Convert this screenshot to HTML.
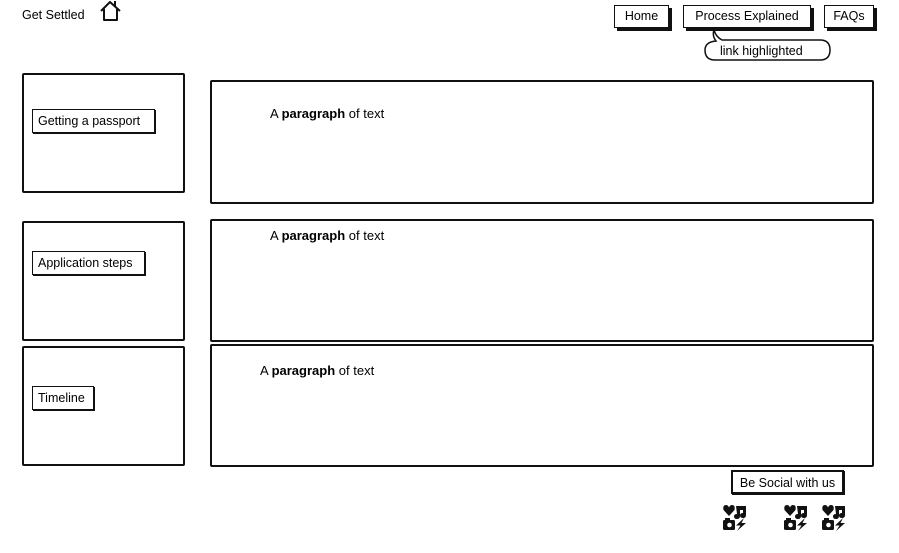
<!DOCTYPE html>
<html><head><style>
body{margin:0;width:899px;height:553px;background:#fff;position:relative;font-family:"Liberation Sans",sans-serif;font-size:13px;color:#000;overflow:hidden}
.a{position:absolute;box-sizing:border-box}
.box{border:2px solid #111;border-radius:2px}
.btn{border:1.5px solid #111;background:#fff;box-shadow:3px 3px 0 #111;text-align:center;font-size:12.5px}
.lbl{border:1.5px solid #111;background:#fff;box-shadow:1px 1px 0 #111;font-size:12.5px;padding-left:5px}
</style></head><body>
<div class="a" style="left:22px;top:8px;font-size:12.5px">Get Settled</div>
<svg class="a" style="left:98px;top:0" width="26" height="24"><path d="M3 11 L12 2 L22 11 M6 9 V20 H19 V9 M17 6 V1" fill="none" stroke="#111" stroke-width="2" stroke-linejoin="round"/></svg>

<div class="a btn" style="left:614px;top:5px;width:55px;height:23px;line-height:20px">Home</div>
<div class="a btn" style="left:683px;top:5px;width:128px;height:23px;line-height:20px">Process Explained</div>
<div class="a btn" style="left:824px;top:5px;width:50px;height:23px;line-height:20px">FAQs</div>
<svg class="a" style="left:700px;top:28px" width="135" height="36"><path d="M14 2 Q16 9 22 12 H120 Q130 12 130 22 Q130 32 120 32 H15 Q5 32 5 22 Q5 14 16 13 Q12 8 14 2 Z" fill="#fff" stroke="#111" stroke-width="1.5"/></svg>
<div class="a" style="left:720px;top:44px;font-size:12.5px">link highlighted</div>

<div class="a box" style="left:22px;top:73px;width:163px;height:120px"></div>
<div class="a lbl" style="left:32px;top:109px;width:123px;height:24px;line-height:22px">Getting a passport</div>
<div class="a box" style="left:22px;top:221px;width:163px;height:120px"></div>
<div class="a lbl" style="left:32px;top:251px;width:113px;height:24px;line-height:22px">Application steps</div>
<div class="a box" style="left:22px;top:346px;width:163px;height:120px"></div>
<div class="a lbl" style="left:32px;top:386px;width:62px;height:24px;line-height:22px">Timeline</div>

<div class="a box" style="left:210px;top:80px;width:664px;height:124px"></div>
<div class="a" style="left:270px;top:106px">A <b>paragraph</b> of text</div>
<div class="a box" style="left:210px;top:219px;width:664px;height:123px"></div>
<div class="a" style="left:270px;top:228px">A <b>paragraph</b> of text</div>
<div class="a box" style="left:210px;top:344px;width:664px;height:123px"></div>
<div class="a" style="left:260px;top:363px">A <b>paragraph</b> of text</div>

<div class="a btn" style="left:731px;top:470px;width:113px;height:24px;line-height:22px;box-shadow:1px 1px 0 #111;border-width:2px">Be Social with us</div>
<svg width="0" height="0" style="position:absolute"><defs><g id="ic">
<path d="M6 11 L0.5 5 Q-0.5 0 3 0 Q5 0 6 2.5 Q7 0 9 0 Q12.5 0 11.5 5 Z" fill="#111"/>
<path d="M13 1 H23 V10 Q23 13 20 13 Q17 13 17 10.5 Q17 8 20 8 V5 H17 V11 Q17 14 14 14 Q11 14 11 11.5 Q11 9 14 9 Z" fill="#111"/>
<rect x="0" y="15" width="12" height="10" rx="1.5" fill="#111"/><rect x="2" y="13" width="5" height="3" fill="#111"/><circle cx="6.5" cy="20" r="2.3" fill="#fff"/>
<path d="M21 13 L13 20.5 H17.5 L14 26 L23 18 H18.5 Z" fill="#111"/></g></defs></svg>
<svg class="a" style="left:723px;top:505px" width="25" height="26"><use href="#ic"/></svg>
<svg class="a" style="left:784px;top:505px" width="25" height="26"><use href="#ic"/></svg>
<svg class="a" style="left:822px;top:505px" width="25" height="26"><use href="#ic"/></svg>
</body></html>
